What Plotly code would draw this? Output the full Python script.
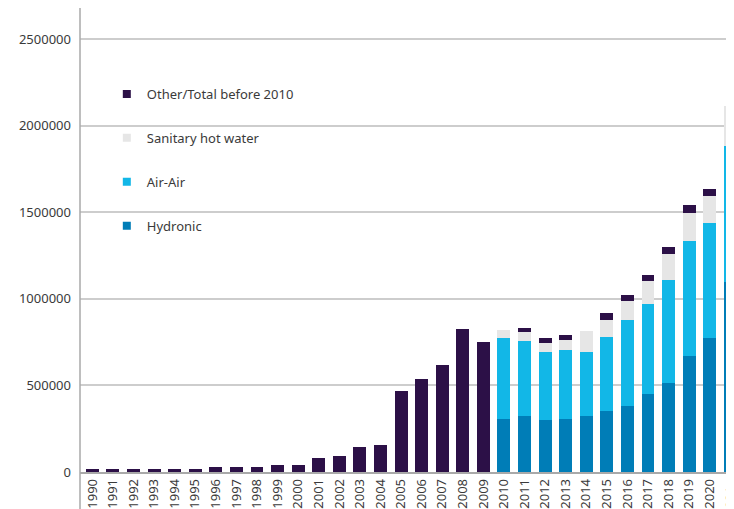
import plotly.graph_objects as go

# Heat pump sales per year (units)
years = ["1990", "1991", "1992", "1993", "1994", "1995", "1996", "1997", "1998",
         "1999", "2000", "2001", "2002", "2003", "2004", "2005", "2006", "2007",
         "2008", "2009", "2010", "2011", "2012", "2013", "2014", "2015", "2016",
         "2017", "2018", "2019", "2020", "2021e"]

# before 2010 only the total is known, afterwards it is the "other" remainder
other_total = [18000, 18000, 18000, 18000, 18000, 18000, 30000, 30000, 30000,
               42000, 42000, 79000, 91000, 146000, 158000, 468000, 535000, 617000,
               826000, 753000, 0, 23000, 28000, 28000, 0, 40000, 34000,
               36000, 35000, 44000, 38000, 0]
hydronic = [0] * 20 + [304000, 322000, 298000, 304000, 322000, 352000, 383000,
                       453000, 515000, 668000, 775000, 1096000]
air_air = [0] * 20 + [471000, 436000, 393000, 398000, 369000, 429000, 494000,
                      520000, 593000, 665000, 664000, 785000]
hot_water = [0] * 20 + [45000, 51000, 56000, 62000, 124000, 96000, 113000,
                        129000, 154000, 165000, 158000, 231000]

y_ticks = [0, 500000, 1000000, 1500000, 2000000, 2500000]

COLORS = {
    "other": "#2c1047",
    "shw": "#e6e6e6",
    "air": "#12b7e7",
    "hyd": "#007db7",
    "grid": "#cdcdcd",
    "axis": "#a9a9a9",
    "text": "#3a3a3a",
}

fig = go.Figure()

# stacked from bottom to top
for name, vals, col in [
    ("Hydronic", hydronic, COLORS["hyd"]),
    ("Air-Air", air_air, COLORS["air"]),
    ("Sanitary hot water", hot_water, COLORS["shw"]),
    ("Other/Total before 2010", other_total, COLORS["other"]),
]:
    fig.add_trace(go.Bar(x=years, y=vals, name=name, legendgroup=name,
                         marker=dict(color=col, line=dict(width=0)),
                         showlegend=False))

# legend entries with small square markers
for name, col in [
    ("Other/Total before 2010", COLORS["other"]),
    ("Sanitary hot water", COLORS["shw"]),
    ("Air-Air", COLORS["air"]),
    ("Hydronic", COLORS["hyd"]),
]:
    fig.add_trace(go.Scatter(x=[None], y=[None], mode="markers", name=name,
                             legendgroup=name,
                             marker=dict(symbol="square", size=8, color=col)))

# page body has an 8px margin, so the figure is offset by 8px
fig.update_layout(
    width=726, height=501,
    barmode="stack", bargap=0.37,
    paper_bgcolor="white", plot_bgcolor="white",
    font=dict(family="Noto Sans", size=13, color=COLORS["text"]),
    margin=dict(l=72, r=0, t=0, b=37),
    legend=dict(x=0.041, y=0.847, xanchor="left", yanchor="top",
                bgcolor="rgba(0,0,0,0)", tracegroupgap=24,
                font=dict(size=13, color=COLORS["text"])),
    xaxis=dict(type="category", range=[-0.6, 31.18], tickangle=-90,
               automargin=False,
               showgrid=False, showline=True, linecolor=COLORS["axis"],
               linewidth=1.5, ticks="", ticklen=0,
               tickfont=dict(size=13)),
    yaxis=dict(range=[0, 2680000], tickvals=y_ticks,
               ticktext=[str(v) for v in y_ticks], automargin=False,
               showgrid=True, gridcolor=COLORS["grid"], gridwidth=1.5,
               zeroline=False, showline=False, ticks="", ticklen=0,
               ticklabelstandoff=8, tickfont=dict(size=13)),
)

# y axis line, continues down through the year labels
fig.add_shape(type="line", xref="paper", yref="paper", x0=0, x1=0, y0=-0.08, y1=1,
              line=dict(color=COLORS["axis"], width=1.5))

fig.write_html("out.html")
